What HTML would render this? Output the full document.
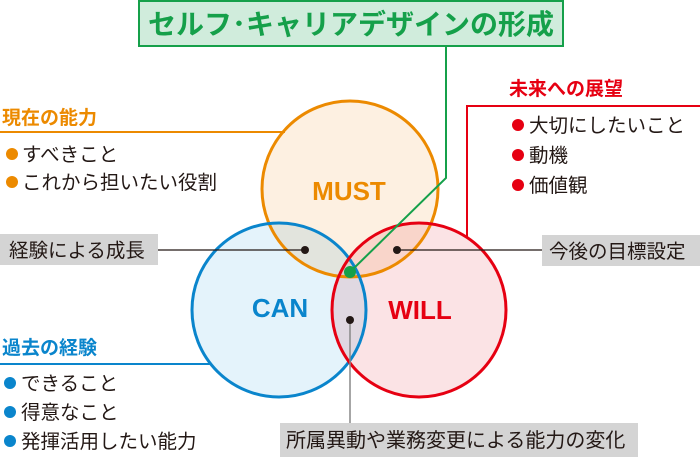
<!DOCTYPE html>
<html><head><meta charset="utf-8"><style>
html,body{margin:0;padding:0;background:#fff;}
svg{display:block;}
text{font-family:"Liberation Sans","Noto Sans CJK JP",sans-serif;}
</style></head><body>
<svg width="700" height="457" viewBox="0 0 700 457" xmlns="http://www.w3.org/2000/svg">
<circle cx="350" cy="189" r="88" fill="#fdf0e1"/>
<circle cx="279" cy="310" r="87" fill="#e4f3fb" style="mix-blend-mode:multiply"/>
<circle cx="419" cy="310" r="87" fill="#fbe3e5" style="mix-blend-mode:multiply"/>
<circle cx="350" cy="189" r="88" fill="none" stroke="#ec8a00" stroke-width="3"/>
<circle cx="279" cy="310" r="87" fill="none" stroke="#0a85cc" stroke-width="3"/>
<circle cx="419" cy="310" r="87" fill="none" stroke="#e60012" stroke-width="3"/>

<rect x="139" y="1" width="424" height="45" fill="#d0ecdc" stroke="#15a04a" stroke-width="2"/>
<text x="351" y="34" text-anchor="middle" font-size="28" font-weight="bold" fill="#15a04a">セルフ･キャリアデザインの形成</text>
<polyline points="446,46 446,178 350,272" fill="none" stroke="#15a04a" stroke-width="2"/>
<circle cx="350" cy="272" r="6" fill="#15a04a"/>

<text x="349" y="200" text-anchor="middle" font-size="26" font-weight="bold" fill="#ec8a00">MUST</text>
<text x="280" y="317" text-anchor="middle" font-size="26" font-weight="bold" fill="#0a85cc">CAN</text>
<text x="420" y="319" text-anchor="middle" font-size="26" font-weight="bold" fill="#e60012">WILL</text>

<text x="2" y="124" font-size="19" font-weight="bold" fill="#ec8a00">現在の能力</text>
<line x1="0" y1="132" x2="285" y2="132" stroke="#ec8a00" stroke-width="2"/>
<circle cx="12" cy="154" r="6" fill="#ec8a00"/>
<text x="22" y="161" font-size="19.5" fill="#231815">すべきこと</text>
<circle cx="12" cy="182" r="6" fill="#ec8a00"/>
<text x="22" y="189" font-size="19.5" fill="#231815">これから担いたい役割</text>

<text x="509" y="95" font-size="19" font-weight="bold" fill="#e60012">未来への展望</text>
<polyline points="700,106 467,106 467,238" fill="none" stroke="#e60012" stroke-width="2"/>
<circle cx="518" cy="125" r="6" fill="#e60012"/>
<text x="529" y="132" font-size="19.5" fill="#231815">大切にしたいこと</text>
<circle cx="518" cy="155" r="6" fill="#e60012"/>
<text x="529" y="162" font-size="19.5" fill="#231815">動機</text>
<circle cx="518" cy="185" r="6" fill="#e60012"/>
<text x="529" y="192" font-size="19.5" fill="#231815">価値観</text>

<text x="2" y="354" font-size="19" font-weight="bold" fill="#0a85cc">過去の経験</text>
<line x1="0" y1="364" x2="210" y2="364" stroke="#0a85cc" stroke-width="2"/>
<circle cx="10" cy="383" r="6" fill="#0a85cc"/>
<text x="21" y="390" font-size="19.5" fill="#231815">できること</text>
<circle cx="10" cy="412" r="6" fill="#0a85cc"/>
<text x="21" y="419" font-size="19.5" fill="#231815">得意なこと</text>
<circle cx="10" cy="441" r="6" fill="#0a85cc"/>
<text x="21" y="448" font-size="19.5" fill="#231815">発揮活用したい能力</text>

<rect x="0" y="234" width="158" height="31" fill="#d4d4d4"/>
<text x="9" y="257" font-size="19.5" fill="#231815">経験による成長</text>
<line x1="158" y1="250" x2="305" y2="250" stroke="#231815" stroke-width="1.2"/>
<circle cx="305" cy="250" r="4" fill="#231815"/>

<rect x="542" y="235" width="158" height="31" fill="#d4d4d4"/>
<text x="549" y="258" font-size="19.5" fill="#231815">今後の目標設定</text>
<line x1="397" y1="250" x2="542" y2="250" stroke="#231815" stroke-width="1.2"/>
<circle cx="397" cy="250" r="4" fill="#231815"/>

<rect x="280" y="423" width="358" height="34" fill="#d4d4d4"/>
<text x="286" y="447" font-size="20" fill="#231815">所属異動や業務変更による能力の変化</text>
<line x1="350" y1="320" x2="350" y2="423" stroke="#888" stroke-width="1.5"/>
<circle cx="350" cy="320" r="4" fill="#231815"/>
</svg>
</body></html>
